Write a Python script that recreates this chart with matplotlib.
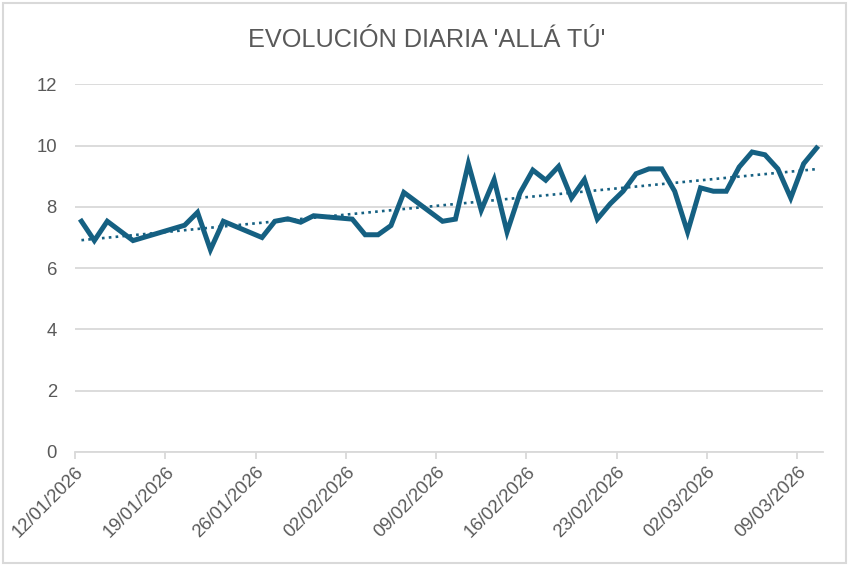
import matplotlib
matplotlib.use("Agg")

import matplotlib.pyplot as plt
import matplotlib.dates as mdates
import numpy as np
import pandas as pd
from matplotlib.patches import Rectangle

plt.rcParams.update({"font.family": ["Liberation Sans", "DejaVu Sans"], "font.size": 13})

# daily values (missing days are simply absent)
dates = ["2026-01-12", "2026-01-13", "2026-01-14", "2026-01-16", "2026-01-20",
         "2026-01-21", "2026-01-22", "2026-01-23", "2026-01-26", "2026-01-27",
         "2026-01-28", "2026-01-29", "2026-01-30", "2026-02-02", "2026-02-03",
         "2026-02-04", "2026-02-05", "2026-02-06", "2026-02-09", "2026-02-10",
         "2026-02-11", "2026-02-12", "2026-02-13", "2026-02-14", "2026-02-15",
         "2026-02-16", "2026-02-17", "2026-02-18", "2026-02-19", "2026-02-20",
         "2026-02-21", "2026-02-22", "2026-02-23", "2026-02-24", "2026-02-25",
         "2026-02-26", "2026-02-27", "2026-02-28", "2026-03-01", "2026-03-02",
         "2026-03-03", "2026-03-04", "2026-03-05", "2026-03-06", "2026-03-07",
         "2026-03-08", "2026-03-09", "2026-03-10"]
values = [7.53, 6.90, 7.53, 6.90, 7.40,
          7.82, 6.60, 7.53, 7.00, 7.53,
          7.61, 7.50, 7.71, 7.60, 7.09,
          7.09, 7.39, 8.47, 7.53, 7.60,
          9.41, 7.89, 8.89, 7.18, 8.45,
          9.20, 8.87, 9.32, 8.29, 8.89,
          7.60, 8.10, 8.51, 9.08, 9.24,
          9.24, 8.51, 7.18, 8.62, 8.51,
          8.51, 9.30, 9.79, 9.70, 9.24,
          8.29, 9.41, 9.92]
tick_dates = ["2026-01-12", "2026-01-19", "2026-01-26", "2026-02-02", "2026-02-09",
              "2026-02-16", "2026-02-23", "2026-03-02", "2026-03-09"]
title = "EVOLUCIÓN DIARIA 'ALLÁ TÚ'"

LINE = "#156082"
GRID = "#D9D9D9"
TXT = "#595959"

d = pd.to_datetime(dates) + pd.Timedelta(hours=12)
x = mdates.date2num(d)
y = np.array(values)

# linear trendline like Excel's
k, b = np.polyfit(x, y, 1)
trend = k * x + b

fig = plt.figure(figsize=(8.53, 5.65), dpi=100)
fig.patches.append(Rectangle((3 / 853, 2.5 / 565), 843.5 / 853, 560 / 565,
                             transform=fig.transFigure, fill=False,
                             ec=GRID, lw=1.5, zorder=0))
ax = fig.add_axes([75 / 853, 1 - 452 / 565, 748 / 853, (452 - 84.3) / 565])

ax.plot(x, y, color=LINE, lw=3.6, solid_joinstyle="miter", zorder=3)
ax.plot(x, trend, color=LINE, lw=1.9, ls=(0, (1, 1.6)), zorder=2)

ax.set_ylim(0, 12)
ax.set_yticks(np.arange(0, 13, 2))
ax.set_xlim(mdates.date2num(pd.Timestamp("2026-01-12")),
            mdates.date2num(pd.Timestamp("2026-03-11")))
ticks = mdates.date2num(pd.to_datetime(tick_dates))
ax.set_xticks(ticks)
ax.set_xticklabels(pd.to_datetime(tick_dates).strftime("%d/%m/%Y"),
                   rotation=45, ha="right", rotation_mode="anchor")

ax.grid(axis="y", color=GRID, lw=1.3)
ax.set_axisbelow(True)
for s in ["top", "right", "left"]:
    ax.spines[s].set_visible(False)
ax.spines["bottom"].set_color(GRID)
ax.spines["bottom"].set_linewidth(1.3)
ax.tick_params(axis="y", length=0, pad=13, colors=TXT, labelsize=13.3)
ax.tick_params(axis="x", length=5, width=1.3, color=GRID, labelcolor=TXT,
               labelsize=13.3, pad=3)

fig.text(0.5, 1 - 47 / 565, title, ha="center", va="baseline",
         fontsize=18.2, color=TXT)

fig.savefig("out.png", dpi=100)
